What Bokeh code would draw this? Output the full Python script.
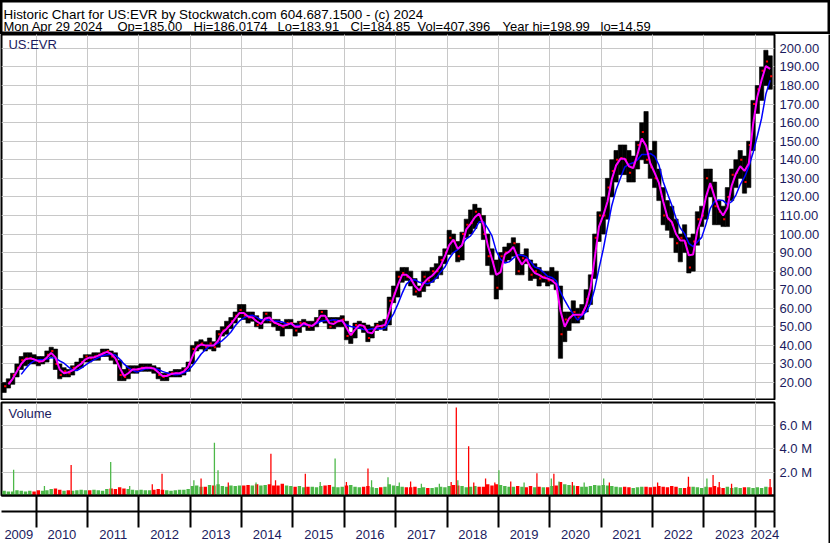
import numpy as np
import pandas as pd
from bokeh.plotting import figure
from bokeh.layouts import column, row
from bokeh.models import (ColumnDataSource, FixedTicker, Grid, Label, LinearAxis,
                          Range1d, PrintfTickFormatter)
from bokeh.embed import file_html
from bokeh.resources import INLINE

# ---------------- data ----------------
header_line1 = "Historic Chart for US:EVR by Stockwatch.com 604.687.1500 - (c) 2024"
header_fields = ["Mon Apr 29 2024", "Op=185.00", "Hi=186.0174", "Lo=183.91", "Cl=184.85",
                 "Vol=407,396", "Year hi=198.99", "lo=14.59"]
header_field_x = [3, 117, 193, 277, 350, 417, 502, 600]   # pixel start of each field
symbol = "US:EVR"
first_month = "2009-05-01"

close = [18, 20, 24, 28, 32, 33, 33, 32,
         31, 32, 35, 37, 30, 24, 26, 25, 28, 29, 31, 34,
         33, 34, 35, 36, 37, 34, 32, 24, 23, 27, 27, 27,
         28, 28, 28, 27, 24, 23, 24, 25, 25, 25, 27, 30,
         38, 40, 41, 39, 41, 39, 46, 48, 50, 53, 56, 59,
         56, 55, 55, 51, 52, 57, 53, 52, 51, 50, 52, 52,
         48, 52, 52, 50, 51, 54, 58, 54, 50, 53, 53, 54,
         45, 46, 51, 51, 50, 44, 49, 51, 50, 52, 64, 68,
         77, 79, 77, 75, 69, 70, 77, 75, 80, 80, 86, 90,
         98, 96, 88, 100, 105, 106, 112, 110, 100, 88, 85, 71,
         88, 90, 91, 95, 80, 87, 86, 78, 80, 76, 77, 75,
         75, 71, 46, 54, 55, 58, 55, 58, 65, 76, 98, 110,
         110, 125, 134, 140, 141, 140, 133, 138, 148, 155, 140, 136,
         130, 125, 110, 108, 105, 95, 98, 95, 82, 96, 108, 110,
         130, 125, 115, 112, 108, 120, 132, 133, 140, 128, 148, 170,
         178, 188, 193, 185]

high = [20, 22, 25, 30, 34, 36, 36, 35,
        34, 34, 37, 39, 38, 30, 28, 27, 29, 31, 33, 35,
        35, 36, 36, 38, 38, 37, 36, 32, 27, 29, 29, 29,
        30, 30, 30, 29, 28, 25, 25, 26, 27, 27, 28, 31,
        40, 42, 43, 42, 44, 42, 48, 50, 53, 55, 58, 62,
        62, 58, 58, 56, 54, 58, 58, 54, 54, 52, 54, 54,
        52, 53, 54, 53, 53, 55, 59, 59, 55, 55, 55, 56,
        53, 47, 52, 53, 52, 51, 50, 52, 53, 54, 66, 72,
        80, 82, 82, 80, 76, 72, 80, 80, 82, 84, 88, 92,
        102, 100, 96, 101, 108, 113, 116, 114, 110, 100, 92, 86,
        90, 93, 95, 98, 95, 89, 92, 86, 84, 82, 80, 80,
        82, 80, 72, 58, 58, 64, 60, 62, 70, 78, 100, 112,
        120, 130, 140, 145, 148, 148, 145, 142, 150, 160, 166, 145,
        150, 135, 125, 118, 115, 108, 100, 105, 98, 100, 112, 115,
        135, 135, 128, 118, 115, 125, 135, 140, 145, 142, 150, 172,
        180, 190, 199, 196]

low = [14.6, 17, 19, 23, 27, 29, 30, 30,
       29, 30, 31, 34, 27, 22, 23, 23, 24, 27, 28, 31,
       31, 32, 32, 34, 34, 32, 30, 21, 21, 22, 25, 25,
       26, 26, 26, 25, 22, 21, 21, 23, 23, 23, 24, 26,
       30, 37, 38, 37, 38, 37, 39, 45, 46, 49, 52, 55,
       54, 52, 53, 50, 49, 52, 52, 50, 48, 45, 49, 49,
       45, 47, 50, 48, 48, 50, 53, 52, 49, 49, 50, 50,
       43, 41, 44, 49, 47, 42, 44, 48, 49, 48, 51, 63,
       66, 74, 75, 72, 67, 66, 69, 72, 74, 76, 78, 84,
       89, 90, 85, 86, 98, 100, 103, 106, 97, 83, 78, 65,
       70, 85, 86, 88, 78, 78, 84, 75, 76, 72, 74, 72,
       73, 70, 33, 42, 48, 52, 52, 54, 58, 62, 76, 96,
       100, 108, 120, 128, 132, 132, 128, 128, 135, 140, 138, 130,
       125, 118, 105, 102, 98, 90, 85, 90, 79, 80, 94, 104,
       108, 120, 105, 105, 104, 104, 118, 125, 130, 122, 125, 145,
       165, 172, 180, 178]

# typical daily volume per month, millions
volume_m = [0.4, 0.35, 0.35, 0.45, 0.4, 0.35, 0.4, 0.35,
            0.45, 0.4, 0.45, 0.55, 0.6, 0.5, 0.4, 0.45, 0.4, 0.45, 0.5, 0.45,
            0.45, 0.5, 0.45, 0.4, 0.55, 0.6, 0.55, 0.7, 0.6, 0.55, 0.5, 0.45,
            0.5, 0.45, 0.45, 0.5, 0.55, 0.5, 0.45, 0.4, 0.45, 0.5, 0.5, 0.55,
            0.8, 0.85, 0.75, 0.75, 0.9, 0.85, 0.95, 0.8, 0.75, 0.85, 0.8, 0.85,
            0.85, 0.9, 0.85, 0.95, 0.85, 0.9, 0.95, 0.85, 0.85, 1.0, 0.85, 0.8,
            0.75, 0.8, 0.7, 0.75, 0.75, 0.7, 0.8, 0.85, 0.9, 0.75, 0.7, 0.75,
            0.85, 0.9, 0.75, 0.7, 0.75, 0.8, 0.7, 0.65, 0.7, 0.75, 0.95, 0.85,
            0.8, 0.75, 0.7, 0.7, 0.75, 0.65, 0.7, 0.65, 0.65, 0.7, 0.75, 0.7,
            0.8, 0.9, 0.85, 0.8, 0.7, 0.75, 0.8, 0.75, 0.75, 0.95, 0.85, 0.95,
            0.9, 0.8, 0.75, 0.75, 0.8, 0.75, 0.7, 0.8, 0.7, 0.75, 0.7, 0.7,
            0.8, 0.85, 1.15, 0.95, 0.9, 0.85, 0.8, 0.75, 0.75, 0.8, 0.9, 0.85,
            0.9, 0.85, 0.8, 0.75, 0.7, 0.75, 0.7, 0.65, 0.7, 0.75, 0.75, 0.7,
            0.75, 0.8, 0.75, 0.7, 0.8, 0.75, 0.65, 0.65, 0.75, 0.75, 0.7, 0.65,
            0.75, 0.7, 0.8, 0.7, 0.65, 0.75, 0.65, 0.7, 0.65, 0.7, 0.7, 0.65,
            0.7, 0.65, 0.75, 0.7]

# single-day volume spikes: date (decimal year), volume (M), up day?
spike_date = [2009.56, 2010.16, 2010.68, 2011.45, 2011.82, 2012.26, 2012.45, 2013.07,
              2013.21, 2013.47, 2013.54, 2013.74, 2014.28, 2014.57, 2014.66, 2015.24,
              2015.53, 2015.82, 2016.04, 2016.46, 2016.53, 2016.85, 2017.07, 2017.29,
              2017.50, 2017.85, 2018.08, 2018.18, 2018.21, 2018.42, 2018.52, 2018.75,
              2018.93, 2019.01, 2019.24, 2019.50, 2019.75, 2020.03, 2020.08, 2020.18,
              2020.44, 2020.67, 2021.05, 2021.16, 2022.10, 2022.70, 2023.06, 2023.18,
              2023.30, 2023.54, 2024.29]
spike_vol = [2.2, 0.8, 2.6, 2.85, 0.8, 0.95, 1.85, 1.3,
             1.45, 4.5, 2.15, 1.1, 1.1, 3.55, 1.3, 1.85,
             1.15, 3.15, 1.15, 2.3, 1.3, 1.55, 1.1, 1.2,
             1.0, 1.0, 1.15, 7.5, 1.3, 4.2, 1.1, 1.45,
             1.1, 2.15, 1.2, 1.1, 1.9, 1.45, 1.85, 1.2,
             1.15, 1.1, 1.45, 1.1, 1.1, 1.6, 1.45, 1.75,
             1.15, 1.0, 1.4]
spike_up = [1, 1, 0, 1, 1, 0, 0, 1,
            0, 1, 1, 0, 1, 0, 0, 0,
            1, 1, 0, 0, 1, 1, 1, 0,
            1, 1, 0, 0, 1, 0, 0, 0,
            0, 1, 0, 1, 0, 1, 0, 1,
            0, 1, 1, 0, 0, 0, 1, 0,
            0, 0, 0]

year_labels = ["2009", "2010", "2011", "2012", "2013", "2014", "2015", "2016",
               "2017", "2018", "2019", "2020", "2021", "2022", "2023", "2024"]
price_ticks = list(range(20, 201, 10))
volume_ticks = [2, 4, 6]

# ---------------- styles ----------------
FONT = "Liberation Sans"
NAVY = "#1b1b5e"
GRID = "#c8c8c8"
GREEN = "#4cb848"
W = 828
RIGHT = 54
HDR_H = 34

dates = pd.date_range(first_month, periods=len(close), freq="MS")
t0 = dates.year + (dates.month - 1) / 12.0
df = pd.DataFrame({"t0": t0, "close": close, "high": high, "low": low, "vol": volume_m})
df["t1"] = df["t0"] + 1 / 12.0
df["mid"] = df["t0"] + 1 / 24.0
df["ma_fast"] = df["close"].rolling(2).mean()
df["ma_slow"] = df["close"].rolling(5).mean()
up = df["close"].diff().fillna(1) >= 0
df["vcolor"] = np.where(up, GREEN, "red")
src = ColumnDataSource(df)

x_start, x_end = 2009.324, 2024.376
year_bounds = [int(y) for y in year_labels[1:]]
xr = Range1d(x_start, x_end)


def bar(width, height):
    b = figure(width=width, height=height, x_axis_location=None, y_axis_location=None,
               output_backend="svg", toolbar_location=None, min_border=0,
               background_fill_color="black", border_fill_color="black")
    b.outline_line_color = None
    b.grid.visible = False
    return b


def style_yaxis(fig, ticks, fmt):
    t = FixedTicker(ticks=ticks)
    fig.yaxis.ticker = t
    fig.ygrid.ticker = t
    fig.ygrid.grid_line_color = GRID
    fig.yaxis.formatter = PrintfTickFormatter(format=fmt)
    fig.yaxis.axis_line_color = None
    fig.yaxis.major_tick_line_color = None
    fig.yaxis.minor_tick_line_color = None
    fig.yaxis.major_tick_out = 0
    fig.yaxis.major_tick_in = 0
    fig.yaxis.major_label_standoff = 5
    fig.yaxis.major_label_text_font = FONT
    fig.yaxis.major_label_text_font_size = "13px"
    fig.yaxis.major_label_text_color = NAVY
    fig.add_layout(Grid(dimension=0, ticker=FixedTicker(ticks=year_bounds),
                        grid_line_color=GRID))


# ---------------- header ----------------
hdr = figure(width=830, height=HDR_H, x_range=Range1d(0, 830), y_range=Range1d(HDR_H, 0),
             x_axis_location=None, y_axis_location=None, output_backend="svg",
             toolbar_location=None, min_border=0)
hdr.outline_line_color = "black"
hdr.outline_line_width = 4
hdr.grid.visible = False
hdr.add_layout(Label(x=3, y=13.5, text=header_line1, text_baseline="alphabetic",
                     text_font=FONT, text_font_size="13.4px", text_color="black"))
for fx, txt in zip(header_field_x, header_fields):
    hdr.add_layout(Label(x=fx, y=26, text=txt, text_baseline="alphabetic",
                         text_font=FONT, text_font_size="13px", text_color="black"))

# ---------------- price panel ----------------
MAIN_H = 366
p = figure(width=W, height=MAIN_H, x_range=xr, y_range=Range1d(10.84, 207.5),
           x_axis_location=None, y_axis_location="right", output_backend="svg",
           toolbar_location=None, min_border_left=1, min_border_right=RIGHT,
           min_border_top=0, min_border_bottom=1)
p.outline_line_color = "black"
p.outline_line_width = 2
style_yaxis(p, price_ticks, "%.2f")

p.vbar(x="mid", width=1 / 12.0, top="high", bottom="low", fill_color="black",
       line_color="black", line_width=0.6, source=src)
p.segment(x0="mid", x1="t1", y0="close", y1="close", color="red", line_width=2, source=src)
p.line(x="mid", y="ma_slow", color="blue", line_width=1.5, source=src)
p.line(x="mid", y="ma_fast", color="magenta", line_width=2, source=src)
p.add_layout(Label(x=2009.46, y=206.0, text=symbol, text_baseline="top", text_font=FONT,
                   text_font_size="13px", text_color=NAVY))

# ---------------- volume panel ----------------
VTOP = 7.93
VOL_H = 141
v = figure(width=W, height=VOL_H, x_range=xr, y_range=Range1d(0, VTOP),
           x_axis_location=None, y_axis_location="right", output_backend="svg",
           toolbar_location=None, min_border_left=1, min_border_right=RIGHT,
           min_border_top=2, min_border_bottom=0)
v.outline_line_color = "black"
v.outline_line_width = 2
style_yaxis(v, volume_ticks, "%.1f M")

v.vbar(x="mid", width=0.8 / 12.0, top="vol", bottom=0, fill_color="vcolor",
       line_color=None, source=src)
ssrc = ColumnDataSource(dict(x=spike_date, top=spike_vol,
                             color=[GREEN if u else "red" for u in spike_up]))
v.vbar(x="x", width=0.025, top="top", bottom=0, fill_color="color", line_color=None,
       source=ssrc)
v.add_layout(Label(x=2009.46, y=VTOP - 0.3, text="Volume", text_baseline="top",
                   text_font=FONT, text_font_size="13px", text_color=NAVY))

# year band: two axes below the volume panel
bounds_all = year_bounds + [x_end]
ax1 = LinearAxis(ticker=FixedTicker(ticks=[], minor_ticks=bounds_all),
                 major_tick_in=0, major_tick_out=16, major_tick_line_color=None,
                 minor_tick_in=0, minor_tick_out=16, minor_tick_line_color="black",
                 minor_tick_line_width=2, axis_line_color="black", axis_line_width=2,
                 major_label_standoff=0)
centers = ([(x_start + year_bounds[0]) / 2.0] +
           [b + 0.5 for b in year_bounds[:-1]] +
           [(year_bounds[-1] + x_end) / 2.0])
ax2 = LinearAxis(ticker=FixedTicker(ticks=centers, minor_ticks=bounds_all),
                 major_tick_in=0, major_tick_out=0, major_tick_line_color=None,
                 minor_tick_in=0, minor_tick_out=16, minor_tick_line_color="black",
                 minor_tick_line_width=2, axis_line_color="black", axis_line_width=2,
                 major_label_overrides={c: l for c, l in zip(centers, year_labels)},
                 major_label_standoff=2, major_label_text_font=FONT,
                 major_label_text_font_size="13px", major_label_text_color=NAVY)
v.add_layout(ax1, "below")
v.add_layout(ax2, "below")

body = row(column(p, v, bar(W, 2)), bar(2, MAIN_H + VOL_H + 2))
layout = column(hdr, body)
open("out.html", "w").write(file_html(layout, INLINE))
